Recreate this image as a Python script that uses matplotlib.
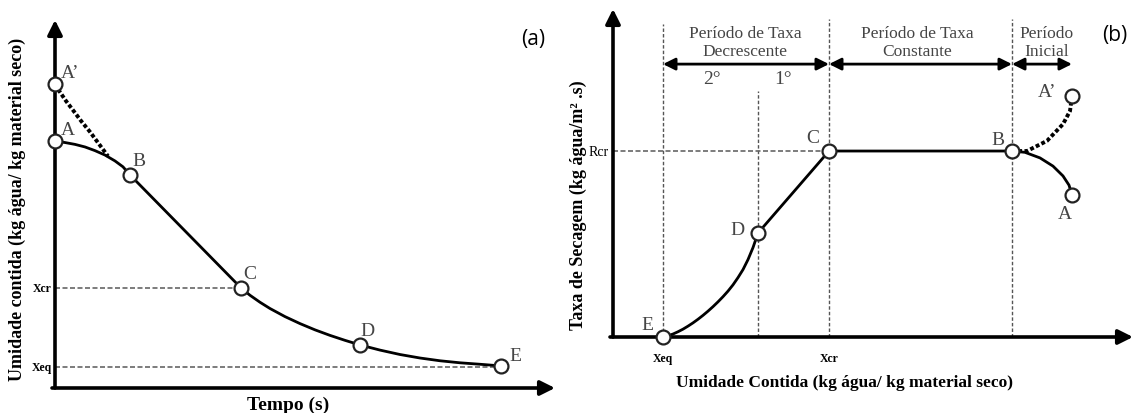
import matplotlib
matplotlib.use("Agg")
import matplotlib.pyplot as plt

W, H = 1136, 414

# (a) moisture content vs time, arbitrary units
t_curve = [0, 2, 4, 6, 8, 10, 12, 13.6, 15, 37.2, 39, 41, 43, 46, 49, 52, 55,
           58, 61, 65, 69, 73, 77, 81, 85, 89.2]
x_curve = [67.1, 66.7, 66.2, 65.5, 64.5, 63.3, 61.7, 60.1, 57.9, 27.2, 25.2,
           23.3, 21.6, 19.4, 17.5, 15.8, 14.3, 12.95, 11.7, 10.3, 9.1, 8.15,
           7.4, 6.85, 6.45, 6.0]
t_dot = [0, 1, 2.2, 3.6, 5.2, 7, 8.8, 10.6]
x_dot = [82.6, 80.4, 78.0, 75.5, 72.6, 69.6, 66.3, 63.0]
pts_a = ["A’", "A", "B", "C", "D", "E"]
t_pts = [0, 0, 15, 37.2, 61, 89.2]
x_pts = [82.6, 67.1, 57.9, 27.2, 11.7, 6.0]
xcr_a, xeq_a = 27.2, 5.7

# (b) drying rate vs moisture content
u_curve = [10, 11, 12, 13, 14, 15, 16, 17, 18, 19, 20, 21, 22, 23, 24, 25, 26,
           27, 28, 29, 43.2, 79.8, 82.4, 85.4, 88, 90, 91.2, 91.8]
r_curve = [0, 0.38, 0.91, 1.6, 2.39, 3.31, 4.31, 5.41, 6.6, 7.88, 9.25, 10.72,
           12.29, 13.99, 15.9, 18.11, 20.55, 23.6, 27.26, 31.7, 56.7, 56.7,
           56.3, 54.6, 52.1, 49.1, 46.3, 43.3]
u_dot = [79.8, 82.8, 86.8, 90, 91.4, 91.8]
r_dot = [56.7, 56.7, 59.8, 64.9, 68.9, 73.5]
pts_b = ["A’", "A", "B", "C", "D", "E"]
u_pts = [91.8, 91.8, 79.8, 43.2, 29, 10]
r_pts = [73.5, 43.3, 56.7, 56.7, 31.7, 0]
xeq_b, xd_b, xcr_b, xb_b, xa_b, rcr_b = 10, 29, 43.2, 79.8, 91.8, 56.7

serif = "Liberation Serif"
gray = "#454545"

fig = plt.figure(figsize=(W / 100, H / 100), dpi=100)


def axes_px(x0, y0, x1, y1):
    # rectangle given in pixels from the top-left corner
    ax = fig.add_axes([x0 / W, (H - y0) / H, (x1 - x0) / W, (y0 - y1) / H])
    ax.set_axis_off()
    return ax


def arrow(ax, xy, xytext, style="-|>", lw=2.6, ms=22):
    ax.annotate("", xy=xy, xytext=xytext, annotation_clip=False,
                arrowprops=dict(arrowstyle=style, lw=lw, color="black",
                                mutation_scale=ms, shrinkA=0, shrinkB=0))


def markers(ax, xs, ys):
    ax.plot(xs, ys, "o", ms=10, mfc="white", mec="#222222", mew=1.6,
            zorder=5, clip_on=False)


def labels(ax, names, xs, ys, offs):
    for n, x, y, (dx, dy) in zip(names, xs, ys, offs):
        ax.annotate(n, (x, y), xytext=(dx, dy), textcoords="offset pixels",
                    ha="center", va="center", fontsize=14, family=serif,
                    color=gray)


# ---- panel (a)
ax = axes_px(55, 389, 555, 21)
ax.set_xlim(0, 100)
ax.set_ylim(0, 100)
arrow(ax, (0, 100), (0, 0))
arrow(ax, (100, 0), (-0.6, 0))
ax.plot([0, t_pts[3]], [xcr_a, xcr_a], ls=(0, (3, 1.5)), color="#666666", lw=1.2)
ax.plot([0, t_pts[5]], [xeq_a, xeq_a], ls=(0, (3, 1.5)), color="#666666", lw=1.2)
ax.plot(t_curve, x_curve, color="black", lw=2.0, clip_on=False)
ax.plot(t_dot, x_dot, color="black", lw=2.8, ls=(0, (1, 0.6)), clip_on=False)
markers(ax, t_pts, x_pts)
labels(ax, pts_a, t_pts, x_pts, [(15, 12), (13, 12), (9, 14), (9, 14), (7, 14), (14, 10)])
ax.text(-0.6, xcr_a, "Xcr", ha="right", va="center", fontsize=8.5,
        family=serif, weight="bold")
ax.text(-0.6, xeq_a, "Xeq", ha="right", va="center", fontsize=8.5,
        family=serif, weight="bold")
fig.text(288 / W, 1 - 405 / H, "Tempo (s)", ha="center", va="center",
         fontsize=14, family=serif, weight="bold")
fig.text(17 / W, 1 - 209 / H, "Umidade contida (kg água/ kg material seco)",
         ha="center", va="center", rotation=90, fontsize=13, family=serif,
         weight="bold")
fig.text(533 / W, 1 - 39 / H, "(a)", ha="center", va="center", fontsize=15,
         family="Open Sans")

# ---- panel (b)
bx = axes_px(613, 338, 1133, 10)
bx.set_xlim(0, 104)
bx.set_ylim(0, 100)
arrow(bx, (0, 100), (0, 0))
arrow(bx, (104, 0), (-0.6, 0))
vdash = dict(ls=(0, (2.5, 1.5)), color="#555555", lw=1.0)
bx.plot([xeq_b, xeq_b], [0, 95.4], **vdash)
bx.plot([xd_b, xd_b], [0, 75], **vdash)
bx.plot([xcr_b, xcr_b], [0, 97], **vdash)
bx.plot([xb_b, xb_b], [0, 97], **vdash)
bx.plot([0, xcr_b], [rcr_b, rcr_b], ls=(0, (3, 1.5)), color="#666666", lw=1.2)
bx.plot(u_curve, r_curve, color="black", lw=2.0)
bx.plot(u_dot, r_dot, color="black", lw=2.8, ls=(0, (1, 0.6)))
markers(bx, u_pts, r_pts)
labels(bx, pts_b, u_pts, r_pts, [(-25, 4), (-7, -19), (-14, 12), (-16, 14), (-21, 4), (-16, 12)])

ya = 83.2
arrow(bx, (xcr_b, ya), (xeq_b, ya), style="<|-|>", lw=2.0, ms=18)
arrow(bx, (xb_b, ya), (xcr_b, ya), style="<|-|>", lw=2.0, ms=18)
arrow(bx, (xa_b, ya), (xb_b, ya), style="<|-|>", lw=2.0, ms=18)

period = dict(ha="center", va="center", fontsize=12.5, family=serif, color=gray,
              linespacing=1.1)
fig.text(745 / W, 1 - 43 / H, "Período de Taxa\nDecrescente", **period)
fig.text(917 / W, 1 - 43 / H, "Período de Taxa\nConstante", **period)
fig.text(1047 / W, 1 - 43 / H, "Período\nInicial", **period)
fig.text(712 / W, 1 - 79 / H, "2°", ha="center", va="center", fontsize=14,
         family=serif, color=gray)
fig.text(783 / W, 1 - 79 / H, "1°", ha="center", va="center", fontsize=14,
         family=serif, color=gray)

bx.text(-0.8, rcr_b, "Rcr", ha="right", va="center", fontsize=10, family=serif)
bx.text(xeq_b, -4.5, "Xeq", ha="center", va="top", fontsize=8.5, family=serif,
        weight="bold")
bx.text(xcr_b, -4.5, "Xcr", ha="center", va="top", fontsize=8.5, family=serif,
        weight="bold")
fig.text(845 / W, 1 - 383 / H, "Umidade Contida (kg água/ kg material seco)",
         ha="center", va="center", fontsize=12.5, family=serif, weight="bold")
fig.text(578 / W, 1 - 205 / H, "Taxa de Secagem (kg água/m² .s)",
         ha="center", va="center", rotation=90, fontsize=13, family=serif,
         weight="bold")
fig.text(1115 / W, 1 - 36 / H, "(b)", ha="center", va="center", fontsize=15,
         family="Open Sans")

fig.savefig("out.png", dpi=100)
